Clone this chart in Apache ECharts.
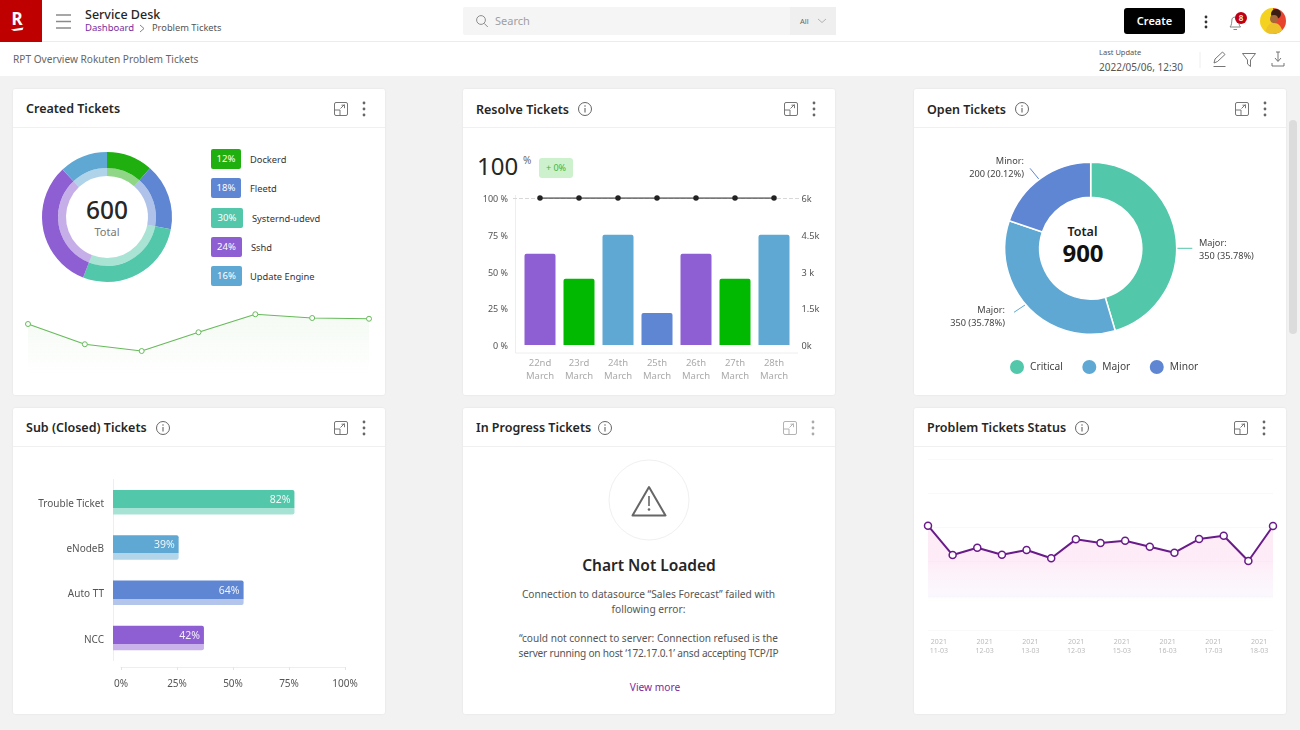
<!DOCTYPE html>
<html>
<head>
<meta charset="utf-8">
<title>Service Desk</title>
<script src="https://cdn.jsdelivr.net/npm/echarts@6/dist/echarts.min.js"></script>
<style>
  * { box-sizing: border-box; }
  html, body { margin: 0; width: 1300px; height: 730px; overflow: hidden; background: #f2f2f2; font-family: "Noto Sans", sans-serif; color: #333; }
  .abs { position: absolute; white-space: nowrap; }
  .bar { position: absolute; left: 0; width: 1300px; background: #fff; }
  .card { position: absolute; width: 372px; height: 306px; background: #fff; border-radius: 2px; box-shadow: 0 0 2px rgba(0,0,0,.09); }
  .card .head { position: absolute; left: 0; right: 0; top: 38px; border-top: 1px solid #f0f0f0; }
  .title { position: absolute; font-size: 12.5px; font-weight: 600; color: #262626; white-space: nowrap; line-height: 16px; }
  .badge { position: absolute; left: 211px; height: 20px; border-radius: 2px; color: #fff; font-size: 9.5px; line-height: 20px; text-align: center; }
  .badge-name { position: absolute; font-size: 9.3px; line-height: 20px; color: #333; }
  #chart { position: absolute; left: 0; top: 0; width: 1300px; height: 730px; }
  svg { position: absolute; overflow: visible; }
  .center { position: absolute; text-align: center; white-space: nowrap; transform: translateX(-50%); }
</style>
</head>
<body>
<div class="bar" style="top:0;height:42px;border-bottom:1px solid #ececec"></div>
<div class="bar" style="top:42px;height:34px"></div>

<div class="abs" style="left:0;top:0;width:42px;height:42px;background:#bf0000"></div>
<div class="abs" style="left:5px;top:7px;width:24px;text-align:center;color:#fff;font:700 17px/24px 'Noto Sans'">R</div>
<svg style="left:0;top:0" width="42" height="42"><path d="M11 29.5 L23.5 27.5 L22.500 30 L14 31 Z" fill="#fff"/></svg>
<svg style="left:0;top:0" width="120" height="42"><path d="M56 15h15M56 21.5h15M56 28h15" stroke="#8a8a8a" stroke-width="1.3"/></svg>
<div class="abs" style="left:85px;top:7px;font-size:12.5px;line-height:16px;font-weight:500;color:#262626">Service Desk</div>
<div class="abs" style="left:85px;top:21px;font-size:9.5px;line-height:14px;color:#7d2a9e">Dashboard</div>
<svg style="left:0;top:0" width="160" height="42"><path d="M140 25l4 3.5-4 3.5" fill="none" stroke="#777" stroke-width=".9"/></svg>
<div class="abs" style="left:152px;top:21px;font-size:9.3px;line-height:14px;color:#555">Problem Tickets</div>

<div class="abs" style="left:463px;top:7px;width:373px;height:28px;background:#f5f5f5;border-radius:2px"></div>
<div class="abs" style="left:790px;top:7px;width:46px;height:28px;background:#efefef"></div>
<svg style="left:0;top:0" width="500" height="42"><circle cx="481" cy="20" r="4.4" fill="none" stroke="#8d8d8d" stroke-width="1"/><path d="M484.2 23.4l3.6 3.6" stroke="#8d8d8d" stroke-width="1"/></svg>
<div class="abs" style="left:495px;top:13px;font-size:11px;line-height:16px;color:#a0a0a0">Search</div>
<div class="abs" style="left:800px;top:14px;font-size:7.5px;line-height:14px;color:#666">All</div>
<svg style="left:0;top:0" width="840" height="42"><path d="M818 19l4 3.5 4-3.5" fill="none" stroke="#aaa" stroke-width=".9"/></svg>

<div class="abs" style="left:1124px;top:8px;width:61px;height:26px;background:#000;border-radius:3px;color:#fff;font-size:11px;font-weight:600;line-height:26px;text-align:center">Create</div>
<svg style="left:0;top:0" width="1300" height="76">
  <g fill="#333"><circle cx="1206" cy="17" r="1.4"/><circle cx="1206" cy="22" r="1.4"/><circle cx="1206" cy="27" r="1.4"/></g>
  <path d="M1230 27c2-2 1.500-5 2-8 .5-2.500 6-2.500 6.500 0 .5 3 0 6 2 8zM1233.500 29.500h3.500" fill="none" stroke="#777" stroke-width=".9"/>
  <circle cx="1241" cy="18" r="6" fill="#c00012"/>
  <clipPath id="ava"><circle cx="1273" cy="21" r="13"/></clipPath>
  <g clip-path="url(#ava)">
    <rect x="1260" y="8" width="13" height="26" fill="#f4d21f"/><rect x="1273" y="8" width="13" height="26" fill="#e8432e"/>
    <circle cx="1276" cy="14" r="5" fill="#3a1c12"/><circle cx="1274" cy="19" r="4" fill="#a5683a"/>
    <path d="M1265 34c1-8 5-11 9-11s8 3 9 11z" fill="#edc22a"/>
  </g>
  <path d="M1200 52v16" stroke="#eee"/>
  <g fill="none" stroke="#666" stroke-width=".9">
    <path d="M1214 63l1-4 7.500-7 2.500 2.500-7.500 7zM1213.500 66.500h12"/>
    <path d="M1242.500 53.500h13l-5 6.500v6.500l-3-2.500v-4z"/>
    <path d="M1278 52v9M1275 58l3 3.500 3-3.500M1276 52h4M1272 63v3h12v-3"/>
  </g>
</svg>
<div class="abs" style="left:1235px;top:12px;width:12px;text-align:center;color:#fff;font-size:8px;line-height:12px;font-weight:600">8</div>
<div class="abs" style="left:13px;top:52px;font-size:10.15px;line-height:15px;color:#666">RPT Overview Rokuten Problem Tickets</div>
<div class="abs" style="left:1099px;top:46px;font-size:7.5px;line-height:12px;color:#555">Last Update</div>
<div class="abs" style="left:1099px;top:60px;font-size:10px;line-height:14px;color:#555">2022/05/06, 12:30</div>
<div class="abs" style="left:1289px;top:120px;width:8px;height:214px;background:#dcdcdc;border-radius:4px"></div>

<div id="cards"></div>
<div id="legendBadges"></div>

<div class="center" style="left:107px;top:193px;font-size:24.5px;line-height:34px;font-weight:500;color:#262626">600</div>
<div class="center" style="left:107px;top:224px;font-size:11px;line-height:16px;color:#777">Total</div>

<div class="abs" style="left:477px;top:148px;font-size:24px;line-height:36px;color:#262626">100</div>
<div class="abs" style="left:523px;top:153px;font-size:10px;line-height:14px;color:#666">%</div>
<div class="abs" style="left:539px;top:158px;width:34px;height:20px;background:#cdf1cd;border-radius:3px;color:#3db53d;font-size:9px;line-height:20px;text-align:center">+ 0%</div>

<div class="center" style="left:1082.500px;top:224px;font-size:12.500px;line-height:16px;font-weight:600;color:#1c1c1c">Total</div>
<div class="center" style="left:1083px;top:236px;font-size:24px;line-height:34px;font-weight:700;color:#111">900</div>

<svg style="left:0;top:0" width="1300" height="730">
  <circle cx="649" cy="500" r="40" fill="#fff" stroke="#f0f0f0"/>
  <path d="M649 487l16.500 28.500h-33z" fill="none" stroke="#666" stroke-width="2" stroke-linejoin="round"/>
  <path d="M649 496v10" stroke="#666" stroke-width="1.600"/><circle cx="649" cy="509.500" r="1.300" fill="#666"/>
</svg>
<div class="center" style="left:649px;top:554px;font-size:15.5px;line-height:22px;font-weight:600;color:#262626">Chart Not Loaded</div>
<div class="center" style="left:648.500px;top:587px;font-size:10.2px;line-height:15px;color:#555">Connection to datasource “Sales Forecast” failed with<br>following error:</div>
<div class="center" style="left:648.500px;top:631px;font-size:10.1px;line-height:15px;color:#555">“could not connect to server: Connection refused is the<br><span style="letter-spacing:-.2px">server running on host ‘172.17.0.1’ ansd accepting TCP/IP</span></div>
<div class="center" style="left:655px;top:680px;font-size:10.2px;line-height:15px;color:#7d2a9e">View more</div>

<div id="chart"></div>

<script>
// created tickets
var createdNames = ['Dockerd', 'Fleetd', 'Systernd-udevd', 'Sshd', 'Update Engine'];
var createdBadges = ['12%', '18%', '30%', '24%', '16%'];
var createdShares = [11.5, 16.5, 28, 32, 12];
var createdDays = ['1', '2', '3', '4', '5', '6', '7'];
var createdTrend = [68, 41, 32, 57, 81, 76, 75];

// resolve tickets
var resolveDays = ['22nd\nMarch', '23rd\nMarch', '24th\nMarch', '25th\nMarch', '26th\nMarch', '27th\nMarch', '28th\nMarch'];
var resolveBars = [62, 45, 75, 21.7, 62, 45, 75];
var resolveRate = [100, 100, 100, 100, 100, 100, 100];
var resolveLeftTicks = ['0 %', '25 %', '50 %', '75 %', '100 %'];
var resolveRightTicks = ['0k', '1.5k', '3 k', '4.5k', '6k'];

// open tickets
var openNames = ['Critical', 'Major', 'Minor'];
var openValues = [454, 348, 198];
var openLabels = ['Major:\n350 (35.78%)', 'Major:\n350 (35.78%)', 'Minor:\n200 (20.12%)'];

// sub (closed) tickets
var subNames = ['Trouble Ticket', 'eNodeB', 'Auto TT', 'NCC'];
var subLengths = [81, 29.3, 58.3, 40.6];
var subLabels = ['82%', '39%', '64%', '42%'];
var subTicks = ['0%', '25%', '50%', '75%', '100%'];

// problem tickets status
var statusPoints = ['p1', 'p2', 'p3', 'p4', 'p5', 'p6', 'p7', 'p8', 'p9', 'p10', 'p11', 'p12', 'p13', 'p14', 'p15'];
var statusValues = [61.1, 43.9, 48.2, 44.1, 46.9, 42, 53.1, 51, 52.3, 48.8, 45.3, 53.3, 55.2, 40.4, 60.9];
var statusDays = ['2021\n11-03', '2021\n12-03', '2021\n13-03', '2021\n12-03', '2021\n15-03', '2021\n16-03', '2021\n17-03', '2021\n18-03'];

var GREEN = '#1fb00f', BARGREEN = '#00b900', BLUE = '#5f86d3', TEAL = '#52c7aa', PURPLE = '#8d5fd3', SKY = '#5fa8d3';
var createdColors = [GREEN, BLUE, TEAL, PURPLE, SKY];
var resolveColors = [PURPLE, BARGREEN, SKY, BLUE, PURPLE, BARGREEN, SKY];
var openColors = [TEAL, SKY, BLUE];
var subColors = [TEAL, SKY, BLUE, PURPLE];
var subLightColors = ['#a6e3d4', '#b3d5ea', '#b3c5ea', '#c9b3ea'];

var AXIS_TEXT = '#555', MUTED_TEXT = '#aaa', FONT = '"Noto Sans", sans-serif';

// page furniture
var cardList = [
    { x: 13, y: 89, title: 'Created Tickets', info: null, icons: 341, dy: 0 },
    { x: 463, y: 89, title: 'Resolve Tickets', info: 585, icons: 791, dy: 1 },
    { x: 914, y: 89, title: 'Open Tickets', info: 1022, icons: 1242, dy: 1 },
    { x: 13, y: 408, title: 'Sub (Closed) Tickets', info: 163, icons: 341, dy: 0 },
    { x: 463, y: 408, title: 'In Progress Tickets', info: 605, icons: 790, muted: true, dy: 0 },
    { x: 914, y: 408, title: 'Problem Tickets Status', info: 1082, icons: 1241, dy: 0 }
];

var html = '';
cardList.forEach(function (c) {
    var cy = c.y + 20, col = c.muted ? '#aaa' : '#666';
    html += '<div class="card" style="left:' + c.x + 'px;top:' + c.y + 'px"><div class="head"></div></div>';
    html += '<div class="title" style="left:' + (c.x + 13) + 'px;top:' + (cy - 8 + c.dy) + 'px">' + c.title + '</div>';
    var s = '';
    if (c.info) {
        s += '<circle cx="' + c.info + '" cy="' + cy + '" r="6.500" fill="none" stroke="#555" stroke-width=".9"/>' +
             '<path d="M' + c.info + ' ' + (cy - 1) + 'v4.500" stroke="#555" stroke-width="1"/><circle cx="' + c.info + '" cy="' + (cy - 3) + '" r=".7" fill="#555"/>';
    }
    var ex = c.icons;
    s += '<g fill="none" stroke="' + col + '" stroke-width=".9"><rect x="' + (ex - 6.5) + '" y="' + (cy - 6.5) + '" width="13" height="13" rx="1.500"/>' +
         '<path d="M' + (ex - 6.5) + ' ' + (cy + 1) + 'h5.500v5.500M' + (ex - .5) + ' ' + (cy - .5) + 'l4-4M' + (ex + .5) + ' ' + (cy - 3.8) + 'h3v3"/></g>';
    s += '<g fill="' + col + '"><circle cx="' + (ex + 23) + '" cy="' + (cy - 6) + '" r="1.400"/><circle cx="' + (ex + 23) + '" cy="' + cy + '" r="1.400"/><circle cx="' + (ex + 23) + '" cy="' + (cy + 6) + '" r="1.400"/></g>';
    html += '<svg style="left:0;top:0" width="1300" height="730">' + s + '</svg>';
});
document.getElementById('cards').innerHTML = html;

var badgeHtml = '';
var badgeTops = [149, 178, 208, 237, 266], badgeWidths = [30, 30, 32, 31, 31], badgeNameLefts = [250, 250, 252, 251, 250];
createdNames.forEach(function (name, i) {
    badgeHtml += '<div class="badge" style="top:' + badgeTops[i] + 'px;width:' + badgeWidths[i] + 'px;background:' + createdColors[i] + '">' + createdBadges[i] + '</div>';
    badgeHtml += '<div class="badge-name" style="left:' + badgeNameLefts[i] + 'px;top:' + (badgeTops[i] + 1) + 'px">' + name + '</div>';
});
document.getElementById('legendBadges').innerHTML = badgeHtml;

var myChart = echarts.init(document.getElementById('chart'), null, { renderer: 'canvas' });

function pieData(names, values, colors, opacity) {
    return values.map(function (v, i) {
        return { name: names[i], value: v, itemStyle: { color: colors[i], opacity: opacity } };
    });
}

var openSpots = [
    { x: 1199, y: 250, align: 'left', line: [[1177, 248.3], [1192, 248.3], [1192.3, 248.3]] },
    { x: 1005, y: 317, align: 'right', line: [[1025, 305], [1014, 312.3], [1014, 312.3]] },
    { x: 1024, y: 168, align: 'right', line: [[1039, 179.3], [1030, 168.3], [1030, 168.3]] }
];

var option = {
    animation: false,
    textStyle: { fontFamily: FONT },
    legend: {
        data: openNames, left: 1003, top: 353, icon: 'circle', itemWidth: 16, itemHeight: 16, itemGap: 17.5, selectedMode: false,
        textStyle: { color: '#444', fontSize: 10.2, fontFamily: FONT }
    },
    grid: [
        { left: 28, top: 300, width: 341, height: 75 },
        { left: 520.5, top: 198, width: 273, height: 147 },
        { left: 113, top: 479.5, width: 232, height: 181 },
        { left: 121, top: 479.5, width: 224, height: 187.5 },
        { left: 928, top: 459.3, width: 345, height: 170.7 },
        { left: 916, top: 459.3, width: 366, height: 170.7 }
    ],
    xAxis: [
        { gridIndex: 0, type: 'category', data: createdDays, boundaryGap: false, show: false },
        {
            gridIndex: 1, type: 'category', data: resolveDays,
            axisLine: { show: false }, axisTick: { show: false },
            axisLabel: { color: MUTED_TEXT, fontSize: 9.5, lineHeight: 13, margin: 12, interval: 0 }
        },
        { gridIndex: 2, type: 'value', min: 0, max: 103.57, show: false },
        {
            gridIndex: 3, type: 'value', min: 0, max: 100, interval: 25,
            axisLine: { show: true, lineStyle: { color: '#eee' } },
            axisTick: { show: true, length: 3, lineStyle: { color: '#e4e4e4' } },
            splitLine: { show: false },
            axisLabel: { color: AXIS_TEXT, fontSize: 10, margin: 12.5, formatter: function (v, i) { return subTicks[i]; } }
        },
        { gridIndex: 4, type: 'category', data: statusPoints, boundaryGap: false, show: false },
        {
            gridIndex: 5, type: 'category', data: statusDays,
            axisLine: { show: false }, axisTick: { show: false },
            axisLabel: { color: '#bbb', fontSize: 7, lineHeight: 9.5, margin: 7, interval: 0 }
        }
    ],
    yAxis: [
        { gridIndex: 0, type: 'value', min: 0, max: 100, show: false },
        {
            gridIndex: 1, type: 'value', min: 0, max: 100, interval: 25, offset: 5,
            axisLine: { show: true, lineStyle: { color: '#eee' } }, axisTick: { show: false }, splitLine: { show: false },
            axisLabel: { color: AXIS_TEXT, fontSize: 9, margin: 7.5, verticalAlign: 'top', lineHeight: 3, formatter: function (v, i) { return resolveLeftTicks[i]; } }
        },
        {
            gridIndex: 1, type: 'value', position: 'right', min: 0, max: 6000, interval: 1500,
            axisLine: { show: false }, axisTick: { show: false }, splitLine: { show: false },
            axisLabel: { color: AXIS_TEXT, fontSize: 9.2, margin: 8, verticalAlign: 'top', lineHeight: 3, formatter: function (v, i) { return resolveRightTicks[i]; } }
        },
        {
            gridIndex: 2, type: 'category', data: subNames, inverse: true,
            axisLine: { show: true, lineStyle: { color: '#eee' } }, axisTick: { show: false },
            axisLabel: { color: AXIS_TEXT, fontSize: 10, margin: 9, verticalAlign: 'top', lineHeight: 4 }
        },
        { gridIndex: 3, type: 'value', min: 0, max: 1, show: false },
        {
            gridIndex: 4, type: 'value', min: 0, max: 100, interval: 20,
            axisLine: { show: false }, axisTick: { show: false }, axisLabel: { show: false },
            splitLine: { show: true, lineStyle: { color: '#f9f9f9' } }
        },
        { gridIndex: 5, type: 'value', min: 0, max: 1, show: false }
    ],
    series: [
        {
            name: 'Created', type: 'pie', center: [107, 217], radius: [49, 65], silent: true,
            label: { show: false }, labelLine: { show: false },
            data: pieData(createdNames, createdShares, createdColors, 1)
        },
        {
            name: 'Created inner', type: 'pie', center: [107, 217], radius: [41, 49], silent: true,
            label: { show: false }, labelLine: { show: false },
            data: pieData(createdNames, createdShares, createdColors, 0.5)
        },
        {
            name: 'Created trend', type: 'line', xAxisIndex: 0, yAxisIndex: 0, data: createdTrend,
            symbol: 'circle', symbolSize: 5, silent: true,
            itemStyle: { color: '#fff', borderColor: '#67bb5b', borderWidth: 1 },
            lineStyle: { color: '#67bb5b', width: 1.2 },
            areaStyle: {
                color: new echarts.graphic.LinearGradient(0, 0, 0, 1, [
                    { offset: 0, color: 'rgba(103,187,91,0.10)' },
                    { offset: 1, color: 'rgba(103,187,91,0)' }
                ])
            }
        },
        {
            name: 'Resolve count', type: 'bar', xAxisIndex: 1, yAxisIndex: 1, barWidth: 31, silent: true,
            data: resolveBars.map(function (v, i) {
                return { value: v, itemStyle: { color: resolveColors[i], borderRadius: [2, 2, 0, 0] } };
            })
        },
        {
            name: 'Resolve rate', type: 'line', xAxisIndex: 1, yAxisIndex: 1, data: resolveRate,
            symbol: 'circle', symbolSize: 5.5, silent: true, z: 4,
            itemStyle: { color: '#222' }, lineStyle: { color: '#555', width: 1.3 },
            markLine: {
                silent: true, symbol: 'none', label: { show: false }, z: 1,
                lineStyle: { color: '#d8d8d8', type: 'dashed', width: 1 },
                data: [[{ x: 513, yAxis: 100 }, { x: 799, yAxis: 100 }]]
            }
        },
        {
            name: 'Open', type: 'pie', center: [1090.7, 248.3], radius: [51, 86], silent: true,
            avoidLabelOverlap: false,
            itemStyle: { borderColor: '#fff', borderWidth: 1.5 },
            label: {
                show: true, color: '#444', fontSize: 9.2, lineHeight: 13,
                formatter: function (p) { return openLabels[p.dataIndex]; }
            },
            labelLine: { show: true, length: 8, length2: 0, lineStyle: { width: 1 } },
            labelLayout: function (p) {
                var s = openSpots[p.dataIndex];
                return { x: s.x, y: s.y, align: s.align, verticalAlign: 'middle', labelLinePoints: s.line };
            },
            data: pieData(openNames, openValues, openColors, 1)
        },
        {
            name: 'Sub closed', type: 'bar', xAxisIndex: 2, yAxisIndex: 3, barWidth: 24.5, silent: true,
            data: subLengths.map(function (v, i) {
                return {
                    value: v,
                    itemStyle: {
                        borderRadius: [0, 2, 2, 0],
                        color: new echarts.graphic.LinearGradient(0, 0, 0, 1, [
                            { offset: 0, color: subColors[i] },
                            { offset: 0.74, color: subColors[i] },
                            { offset: 0.74, color: subLightColors[i] },
                            { offset: 1, color: subLightColors[i] }
                        ])
                    }
                };
            }),
            label: {
                show: true, position: 'insideRight', distance: 4, offset: [0, -2],
                color: 'rgba(255,255,255,.9)', fontSize: 10.5,
                formatter: function (p) { return subLabels[p.dataIndex]; }
            }
        },
        {
            name: 'Status', type: 'line', xAxisIndex: 4, yAxisIndex: 5, data: statusValues,
            symbol: 'circle', symbolSize: 7, silent: true, z: 5,
            itemStyle: { color: '#fff', borderColor: '#6a1b8a', borderWidth: 1.5 },
            lineStyle: { color: '#6a1b8a', width: 2 },
            areaStyle: {
                color: new echarts.graphic.LinearGradient(0, 0, 0, 1, [
                    { offset: 0, color: '#fbe2f2' },
                    { offset: 0.32, color: '#fce2f3' },
                    { offset: 0.5, color: '#fbeef8' },
                    { offset: 0.68, color: '#f8f5fc' },
                    { offset: 0.72, color: 'rgba(255,255,255,0)' },
                    { offset: 1, color: 'rgba(255,255,255,0)' }
                ])
            }
        }
    ],
    graphic: [
        { type: 'line', silent: true, shape: { x1: 515.5, y1: 195, x2: 515.5, y2: 353 }, style: { stroke: '#eee', lineWidth: 1 } },
        { type: 'line', silent: true, shape: { x1: 515.5, y1: 353, x2: 798, y2: 353 }, style: { stroke: '#eee', lineWidth: 1 } }
    ]
};

option && myChart.setOption(option);
</script>
</body>
</html>
